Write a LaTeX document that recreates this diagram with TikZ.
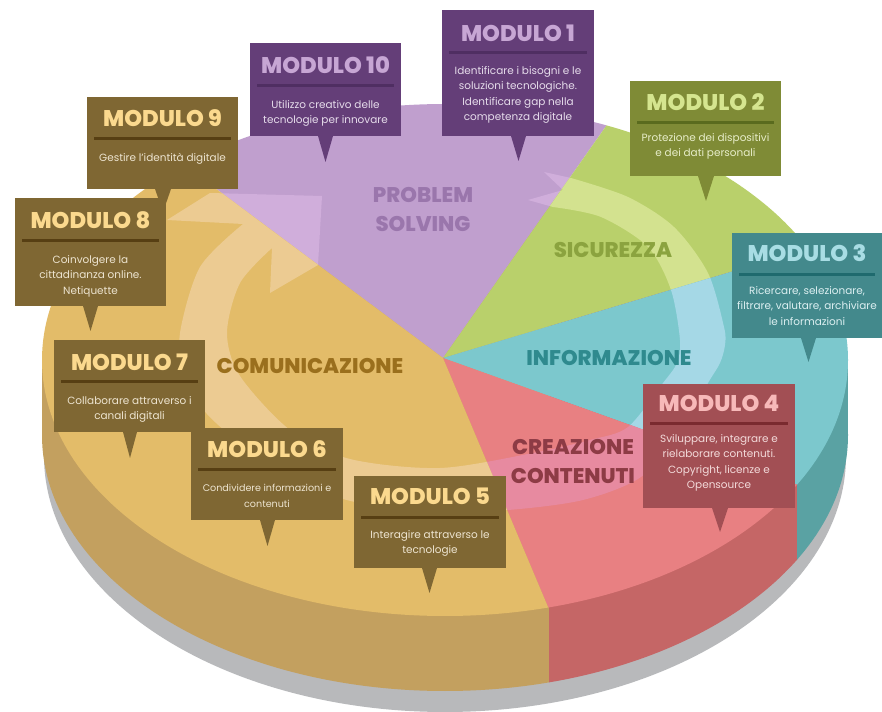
\documentclass[tikz,border=0pt]{standalone}
\usepackage{fontspec}
\setmainfont{Poppins}
\newfontfamily\heavyf{Poppins ExtraBold}
\definecolor{cPur}{HTML}{C09FCE}\definecolor{cPurL}{HTML}{D0AEDB}
\definecolor{cGre}{HTML}{B9D06B}\definecolor{cGreL}{HTML}{D3E28F}
\definecolor{cTea}{HTML}{7CC8CD}\definecolor{cTeaL}{HTML}{A5D8E6}
\definecolor{cRed}{HTML}{E88082}\definecolor{cRedL}{HTML}{E78AA0}
\definecolor{cTan}{HTML}{E3BC69}\definecolor{cTanL}{HTML}{ECCB92}
\definecolor{sTan}{HTML}{C3A05F}\definecolor{sRed}{HTML}{C56666}
\definecolor{sTea}{HTML}{5AA2A3}\definecolor{cGrey}{HTML}{B8B9BB}
\definecolor{lPur}{HTML}{9A76AC}\definecolor{lGre}{HTML}{8BA33F}
\definecolor{lTea}{HTML}{2F8A8E}\definecolor{lTan}{HTML}{9A6F1D}
\definecolor{lRed}{HTML}{8D3B45}
\definecolor{bTan}{HTML}{7F6733}\definecolor{rTan}{HTML}{573F13}\definecolor{tTan}{HTML}{FBD98E}\definecolor{dTan}{HTML}{EDE4D0}
\definecolor{bPur}{HTML}{643E78}\definecolor{rPur}{HTML}{4F2E62}\definecolor{tPur}{HTML}{C7A6D4}\definecolor{dPur}{HTML}{E6DCEB}
\definecolor{bGre}{HTML}{7F8B36}\definecolor{rGre}{HTML}{5A6B1E}\definecolor{tGre}{HTML}{D5E58F}\definecolor{dGre}{HTML}{E7EDC9}
\definecolor{bTea}{HTML}{43898C}\definecolor{rTea}{HTML}{1F6A6E}\definecolor{tTea}{HTML}{A8DDE4}\definecolor{dTea}{HTML}{DCEFF1}
\definecolor{bRed}{HTML}{A24F54}\definecolor{rRed}{HTML}{7A2A2F}\definecolor{tRed}{HTML}{F7B9B9}\definecolor{dRed}{HTML}{F3DADA}
\def\wPur{(443,358)--(649,65)--(649,0)--(105,0)--(105,106)--cycle}
\def\wGre{(443,358)--(649,65)--(649,0)--(904,0)--(904,220)--cycle}
\def\wTea{(443,358)--(904,220)--(904,523)--cycle}
\def\wRed{(443,358)--(904,523)--(904,735)--(602,735)--cycle}
\def\wTan{(443,358)--(602,735)--(0,735)--(0,106)--(105,106)--cycle}
\def\band{(571,178) -- plot[smooth] coordinates {(571,178)(628,197)(674,227)(708,273)(724,327)(725,345)(720,363)(708,383)(680,432)(641,477)(583,500)(508,510)(430,512)(343,499)(270,465)(207,414)(185,370)(180,333)(200,267)(243,224)}
 -- (167,220) -- (210,193) -- (322,196) -- (318,265) -- (270,293) -- (272,248)
 -- plot[smooth] coordinates {(272,248)(240,283)(227,333)(240,376)(290,430)(350,459)(440,468)(533,453)(590,440)(628,427)(663,383)(677,363)(680,340)(671,290)(648,247)(601,217)(553,207)}
 -- (528,200) -- (563,190) -- (544,172) -- cycle}
\newcommand\wedgepart[3]{\begin{scope}\path[clip] #1;\fill[#2] (0,0) rectangle (882,712);\fill[#3] \band;\end{scope}}
\tikzset{
  modtitle/.style={text=tit,font=\heavyf\fontsize{17}{18}\selectfont,inner sep=0pt},
  modbody/.style={text=bod,font=\fontsize{7.85}{11.6}\selectfont,align=center,inner sep=0pt,anchor=north},
  seclabel/.style={font=\heavyf\fontsize{15.9}{17}\selectfont,inner sep=0pt}
}
% #1..#4 box, #5 #6 tail base, #7 tail tip, #8 title, #9 body; \offs sets title, rule, first-line offsets
\newcommand\offs[3]{\def\ot{#1}\def\orr{#2}\def\ob{#3}}
\newcommand\modbox[9]{%
  \fill[boxf] (#1,#2) rectangle (#3,#4);
  \fill[boxf] (#5,#4) -- (#6,#4) -- ({(#5+#6)/2},#7) -- cycle;
  \fill[boxr] ({#1+7},{#2+\orr-1.5}) rectangle ({#3-7},{#2+\orr+1.5});
  \node[modtitle,name=#8] at ({(#1+#3)/2},{#2+\ot}) {#8};
  \node[modbody,name=#8 text] at ({(#1+#3)/2},{#2+\ob-4.8}) {#9};
}
\begin{document}
\begin{tikzpicture}[x=0.75pt,y=-0.75pt]
\useasboundingbox (0,0) rectangle (882,712);
\fill[white] (0,0) rectangle (882,712);
% shadow
\fill[cGrey] (445,456) ellipse (401 and 256);
% side
\begin{scope}\clip (0,0) rectangle (549,712);
 \fill[sTan] (42,360) rectangle (848,435); \fill[sTan] (445,435) ellipse (403 and 256);
\end{scope}
\begin{scope}\clip (549,0) rectangle (797,712);
 \fill[sRed] (42,360) rectangle (848,435); \fill[sRed] (445,435) ellipse (403 and 256);
\end{scope}
\begin{scope}\clip (797,0) rectangle (882,712);
 \fill[sTea] (42,360) rectangle (848,435); \fill[sTea] (445,435) ellipse (403 and 256);
\end{scope}
% top
\begin{scope}
 \clip (445,360) ellipse (403 and 256);
 \wedgepart{\wPur}{cPur}{cPurL}
 \wedgepart{\wGre}{cGre}{cGreL}
 \wedgepart{\wTea}{cTea}{cTeaL}
 \wedgepart{\wRed}{cRed}{cRedL}
 \wedgepart{\wTan}{cTan}{cTanL}
\end{scope}
% labels
\node[seclabel,text=lPur] (lab1) at (423,195) {PROBLEM};
\node[seclabel,text=lPur] (lab2) at (423,224) {SOLVING};
\node[seclabel,text=lGre] (lab3) at (613,250) {SICUREZZA};
\node[seclabel,text=lTea] (lab4) at (609,358) {INFORMAZIONE};
\node[seclabel,text=lTan] (lab5) at (310,366) {COMUNICAZIONE};
\node[seclabel,text=lRed] (lab6) at (573,447) {CREAZIONE};
\node[seclabel,text=lRed] (lab7) at (573,476) {CONTENUTI};
% modules
\begin{scope}
 \colorlet{boxf}{bTan}\colorlet{boxr}{rTan}\colorlet{tit}{tTan}\colorlet{bod}{dTan}
 \offs{21}{42}{61}
 \modbox{87}{97}{238}{189}{155}{171}{212}{MODULO 9}{Gestire l'identità digitale}
 \offs{22}{43}{62}
 \modbox{15}{198}{166}{306}{83}{98}{331}{MODULO 8}{Coinvolgere la\\cittadinanza online.\\Netiquette}
 \offs{22}{42}{61}
 \modbox{54}{340}{205}{432}{123}{137}{458}{MODULO 7}{Collaborare attraverso i\\canali digitali}
 \offs{21}{42}{61}
 \modbox{191}{428}{343}{520}{260}{275}{546}{MODULO 6}{\fontsize{7.2}{10.5}\selectfont Condividere informazioni e\\\fontsize{7.2}{10.5}\selectfont contenuti}
 \offs{20}{42}{59}
 \modbox{354}{476}{506}{568}{422}{437}{593}{MODULO 5}{Interagire attraverso le\\tecnologie}
\end{scope}
\begin{scope}
 \colorlet{boxf}{bPur}\colorlet{boxr}{rPur}\colorlet{tit}{tPur}\colorlet{bod}{dPur}
 \offs{22}{43}{62}
 \modbox{250}{43}{401}{136}{318}{333}{162}{MODULO 10}{Utilizzo creativo delle\\tecnologie per innovare}
 \offs{23}{43}{61}
 \modbox{442}{10}{594}{136}{511}{526}{161}{MODULO 1}{Identificare i bisogni e le\\soluzioni tecnologiche.\\Identificare gap nella\\competenza digitale}
\end{scope}
\begin{scope}
 \colorlet{boxf}{bGre}\colorlet{boxr}{rGre}\colorlet{tit}{tGre}\colorlet{bod}{dGre}
 \offs{21}{42}{57}
 \modbox{630}{81}{781}{176}{698}{714}{201}{MODULO 2}{Protezione dei dispositivi\\e dei dati personali}
\end{scope}
\begin{scope}
 \colorlet{boxf}{bTea}\colorlet{boxr}{rTea}\colorlet{tit}{tTea}\colorlet{bod}{dTea}
 \offs{20}{42}{58}
 \modbox{732}{233}{882}{338}{801}{816}{362}{MODULO 3}{Ricercare, selezionare,\\filtrare, valutare, archiviare\\le informazioni}
\end{scope}
\begin{scope}
 \colorlet{boxf}{bRed}\colorlet{boxr}{rRed}\colorlet{tit}{tRed}\colorlet{bod}{dRed}
 \offs{19}{40}{55}
 \modbox{643}{384}{795}{508}{712}{728}{532}{MODULO 4}{Sviluppare, integrare e\\rielaborare contenuti.\\Copyright, licenze e\\Opensource}
\end{scope}
\end{tikzpicture}
\end{document}
